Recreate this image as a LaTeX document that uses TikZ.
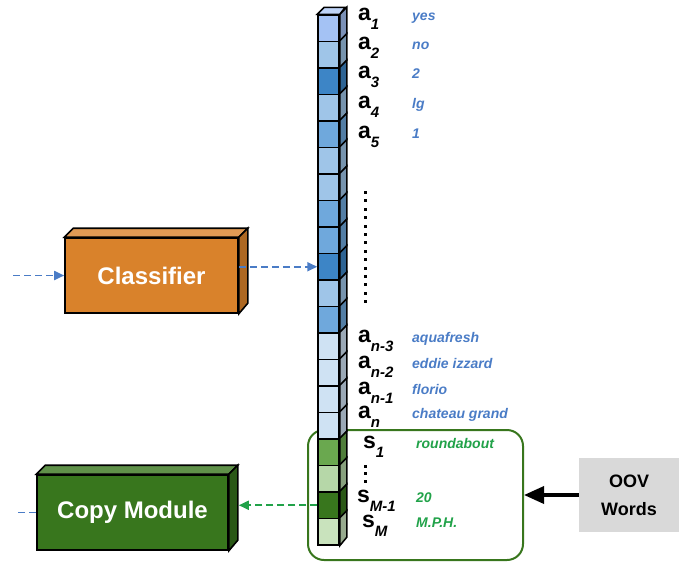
\documentclass[tikz,border=0pt]{standalone}
\usepackage{fontspec}
\setmainfont{Liberation Sans}
\usepackage{tikz}
\usetikzlibrary{arrows.meta,positioning,calc}

\definecolor{cellA}{HTML}{A4C2F4}
\definecolor{cellB}{HTML}{9FC5E8}
\definecolor{cellC}{HTML}{3D85C6}
\definecolor{cellD}{HTML}{6FA8DC}
\definecolor{cellE}{HTML}{CFE2F3}
\definecolor{cellF}{HTML}{6AA84F}
\definecolor{cellG}{HTML}{B6D7A8}
\definecolor{cellH}{HTML}{38761D}
\definecolor{cellI}{HTML}{C9E3BD}
\definecolor{wordblue}{HTML}{4A7CC6}
\definecolor{wordgreen}{HTML}{21A249}
\definecolor{boxorange}{HTML}{D9822B}
\definecolor{boxgreen}{HTML}{38761D}
\definecolor{oovgray}{HTML}{D9D9D9}

\newcommand{\cellname}[2]{#1\raisebox{-9pt}{\fontsize{15}{15}\selectfont\itshape #2}}

\begin{document}
\begin{tikzpicture}[x=1pt,y=-1pt,
    cellbox/.style={draw=black, line width=1.5pt, minimum width=21pt, minimum height=26.5pt, inner sep=0pt},
    lbl/.style={anchor=base west, inner sep=0pt, font=\fontsize{23}{23}\selectfont\bfseries},
    word/.style={anchor=base west, inner sep=0pt, font=\fontsize{14}{14}\selectfont\bfseries\itshape},
    module/.style={draw=black, line width=1.6pt, inner sep=0pt, text=white, font=\fontsize{24}{24}\selectfont\bfseries},
    bluedash/.style={draw=wordblue, line width=1.8pt, dash pattern=on 7pt off 4pt, -{Triangle[length=10pt,width=9pt]}},
    greendash/.style={draw=wordgreen, line width=1.8pt, dash pattern=on 7pt off 4pt, -{Triangle[length=10pt,width=9pt]}}
]
    \useasboundingbox (0,0) rectangle (679,562);

    % OOV group
    \node[draw=boxgreen, line width=2pt, rounded corners=16pt, minimum width=215pt, minimum height=130pt] (grp) at (415.5,495) {};

    % Column of cells
    \foreach \col [count=\i] in {cellA,cellB,cellC,cellB,cellD,cellB,cellB,cellD,cellD,cellC,cellB,cellD,cellE,cellE,cellE,cellE,cellF,cellG,cellH,cellI} {
        \node[cellbox, fill=\col] (c\i) at (328.5,{15+(\i-0.5)*26.5}) {};
        \filldraw[fill=\col!75!black, line width=1.5pt] (c\i.north east) -- ++(7,-7) -- ++(0,26.5) -- (c\i.south east) -- cycle;
    }
    \filldraw[fill=cellA!70!white, line width=1.5pt] (c1.north west) -- ++(7,-7) -- ++(21,0) -- (c1.north east) -- cycle;

    % Labels
    \foreach \sub/\yy/\txt [count=\k] in {1/20/yes, 2/49/no, 3/78/2, 4/108/lg, 5/138/1, n-3/342/aquafresh, n-2/368/eddie izzard, n-1/394/florio, n/418/chateau grand} {
        \node[lbl] (a\k) at (358,\yy) {\cellname{a}{\sub}};
        \node[word, text=wordblue] (w\k) at (412,\yy) {\txt};
    }
    \foreach \sub/\yy/\xx/\txt [count=\k] in {1/448/363/roundabout, M-1/502/357/20, M/527/362/M.P.H.} {
        \node[lbl] (s\k) at (\xx,\yy) {\cellname{s}{\sub}};
        \node[word, text=wordgreen] (v\k) at (416,\yy) {\txt};
    }

    % Dots
    \foreach \k in {0,...,13} {
        \fill (363.5,{191+\k*8.4}) rectangle ++(3,3);
    }
    \foreach \k in {0,...,2} {
        \fill (363.5,{465+\k*7.3}) rectangle ++(3,3);
    }

    % Classifier
    \node[module, fill=boxorange, minimum width=173pt, minimum height=75pt] (cls) at (151.5,275.5) {Classifier};
    \filldraw[fill=boxorange!80!white, line width=1.6pt] (cls.north west) -- ++(9,-9) -- ($(cls.north east)+(9,-9)$) -- (cls.north east) -- cycle;
    \filldraw[fill=boxorange!80!black, line width=1.6pt] (cls.north east) -- ++(9,-9) -- ++(0,75) -- (cls.south east) -- cycle;

    % Copy module
    \node[module, fill=boxgreen, minimum width=191pt, minimum height=75pt] (cpy) at (132.5,512.5) {Copy Module};
    \filldraw[fill=boxgreen!80!white, line width=1.6pt] (cpy.north west) -- ++(9,-9) -- ($(cpy.north east)+(9,-9)$) -- (cpy.north east) -- cycle;
    \filldraw[fill=boxgreen!75!black, line width=1.6pt] (cpy.north east) -- ++(9,-9) -- ++(0,75) -- (cpy.south east) -- cycle;

    % OOV words
    \node[fill=oovgray, minimum width=100pt, minimum height=74pt, align=center, font=\fontsize{18}{28}\selectfont\bfseries] (oov) at (629,495) {OOV\\Words};

    % Connectors
    \coordinate (clsin) at (13,275.5);
    \coordinate (cpyout) at (15,512.5);
    \draw[bluedash] (clsin) -- (cls.west);
    \draw[bluedash] (cls.east |- c10.west) -- (c10.west);
    \draw[bluedash, -] (cpy.west) -- (cpyout);
    \draw[greendash] (c19.west) -- ($(cpy.east |- c19.west)+(10,0)$);
    \draw[line width=3.5pt, -{Triangle[length=20pt,width=17pt]}] (oov.west) -- (grp.east);
\end{tikzpicture}
\end{document}
